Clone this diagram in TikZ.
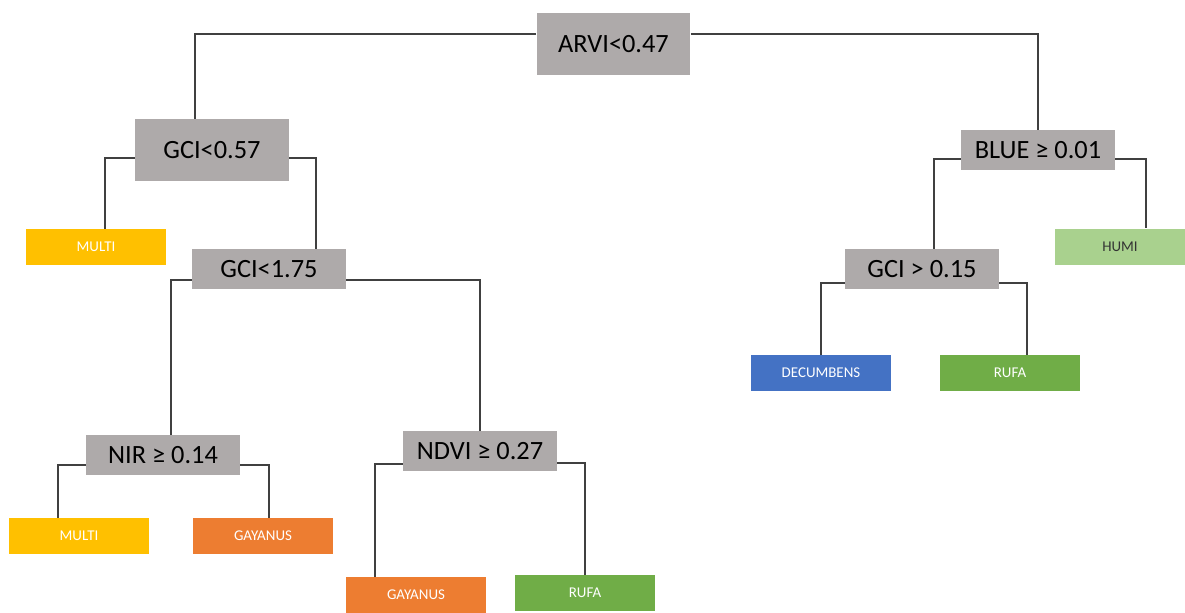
\documentclass[tikz,border=0pt]{standalone}
\usepackage{fontspec}
\setmainfont{Carlito}
\usetikzlibrary{calc,positioning}
\definecolor{boxgray}{HTML}{AEAAAA}
\definecolor{multi}{HTML}{FFC000}
\definecolor{gayanus}{HTML}{ED7D31}
\definecolor{rufa}{HTML}{70AD47}
\definecolor{decumbens}{HTML}{4472C4}
\definecolor{humi}{HTML}{A9D18E}
\definecolor{wire}{HTML}{404040}
\tikzset{
	split/.style={fill=boxgray,minimum width=3.08cm,minimum height=0.8cm,inner sep=0pt,font=\fontsize{15}{17}\selectfont,text=black},
	leaf/.style={minimum width=2.8cm,minimum height=0.72cm,inner sep=0pt,font=\fontsize{8.5}{10}\selectfont,text=white},
	wire/.style={draw=wire,line width=0.7pt},
}
\begin{document}
\begin{tikzpicture}[x=0.02cm,y=-0.02cm]
		\useasboundingbox (0,0) rectangle (1185,612);
		% splits
		\node[split,minimum height=1.24cm] (arvi) at (613.5,44) {ARVI<0.47};
		\node[split,minimum height=1.24cm] (gcia) at (212,150) {GCI<0.57};
		\node[split] (gcib) at (269,269) {GCI<1.75};
		\node[split] (nir) at (163,455) {NIR ≥ 0.14};
		\node[split] (ndvi) at (480,451) {NDVI ≥ 0.27};
		\node[split] (blue) at (1038,150) {BLUE ≥ 0.01};
		\node[split] (gcic) at (922,269) {GCI > 0.15};
		% leaves
		\node[leaf,fill=multi] (multia) at (96,247) {MULTI};
		\node[leaf,fill=multi] (multib) at (79,536) {MULTI};
		\node[leaf,fill=gayanus] (gayanusa) at (263,536) {GAYANUS};
		\node[leaf,fill=gayanus] (gayanusb) at (416,595) {GAYANUS};
		\node[leaf,fill=rufa] (rufab) at (585,593) {RUFA};
		\node[leaf,fill=decumbens] (decumbens) at (821,373) {DECUMBENS};
		\node[leaf,fill=rufa] (rufaa) at (1010,373) {RUFA};
		\node[leaf,fill=humi,text=black!80,minimum width=2.6cm] (humi) at (1120,246.5) {HUMI};
		% branches
		\draw[wire] ([yshift=0.2cm]arvi.west) -| ([xshift=-0.34cm]gcia.north);
		\draw[wire] ([yshift=0.2cm]arvi.east) -| (blue.north);
		\draw[wire] ([yshift=-0.16cm]gcia.west) -| ([xshift=0.18cm]multia.north);
		\draw[wire] ([yshift=-0.16cm]gcia.east) -| ([xshift=0.94cm]gcib.north);
		\draw[wire] ([yshift=-0.22cm]gcib.west) -| ([xshift=0.16cm]nir.north);
		\draw[wire] ([yshift=-0.22cm]gcib.east) -| (ndvi.north);
		\draw[wire] ([yshift=-0.2cm]nir.west) -| ([xshift=-0.42cm]multib.north);
		\draw[wire] ([yshift=-0.2cm]nir.east) -| ([xshift=0.12cm]gayanusa.north);
		\draw[wire] ([yshift=-0.26cm]ndvi.west) -| ([xshift=-0.82cm]gayanusb.north);
		\draw[wire] ([yshift=-0.24cm]ndvi.east) -| (rufab.north);
		\draw[wire] ([yshift=-0.18cm]blue.west) -| ([xshift=0.24cm]gcic.north);
		\draw[wire] ([yshift=-0.18cm]blue.east) -| ([xshift=0.52cm]humi.north);
		\draw[wire] ([yshift=-0.28cm]gcic.west) -| (decumbens.north);
		\draw[wire] ([yshift=-0.28cm]gcic.east) -| ([xshift=0.34cm]rufaa.north);
	\end{tikzpicture}
\end{document}
